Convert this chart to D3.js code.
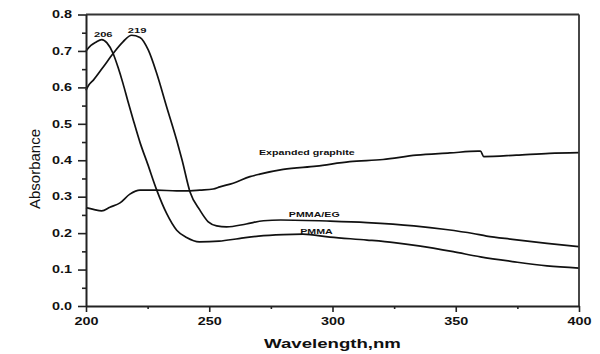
<!DOCTYPE html>
<html>
<head>
<meta charset="utf-8">
<script src="https://cdn.jsdelivr.net/npm/d3@7"></script>
<style>
  body { margin: 0; background: #fff; }
  svg { display: block; font-family: "Liberation Sans", Arial, sans-serif; }
</style>
</head>
<body>
<svg width="600" height="354"></svg>
<script>
// UV-vis spectra, values
const wlPMMA = [200, 202, 204, 206.4, 208.5, 211, 213, 215, 217, 219.2, 222, 225, 228.7, 232.7, 236.8, 240.8, 246, 254, 262, 270, 280, 288, 299, 314, 325, 335, 349, 360, 373, 387, 400];
const absPMMA = [0.700, 0.715, 0.724, 0.731, 0.722, 0.693, 0.655, 0.611, 0.562, 0.510, 0.447, 0.390, 0.318, 0.254, 0.208, 0.188, 0.176, 0.178, 0.185, 0.192, 0.196, 0.197, 0.189, 0.181, 0.174, 0.165, 0.149, 0.135, 0.122, 0.110, 0.104];

const wlPMMAEG = [200, 201, 203, 207, 211, 215, 218.5, 221.9, 225.3, 228.7, 232.7, 236.8, 239, 242.2, 246.2, 249.6, 253, 257, 265, 272, 279, 299, 314, 333, 346, 357, 362.5, 373, 387, 400];
const absPMMAEG = [0.592, 0.605, 0.620, 0.656, 0.693, 0.725, 0.743, 0.737, 0.702, 0.638, 0.547, 0.455, 0.400, 0.313, 0.263, 0.231, 0.220, 0.217, 0.225, 0.234, 0.236, 0.233, 0.229, 0.220, 0.210, 0.199, 0.192, 0.183, 0.172, 0.163];

const wlEG = [200, 203, 206.4, 209.7, 213.8, 217.8, 221.9, 228.7, 236.8, 242.2, 246.2, 251.6, 254.3, 259.7, 266.5, 270.5, 280, 293.5, 307, 320.5, 334, 347.6, 359, 360, 361.4, 374.6, 388, 400];
const absEG = [0.270, 0.265, 0.261, 0.271, 0.283, 0.307, 0.318, 0.318, 0.316, 0.316, 0.318, 0.321, 0.327, 0.337, 0.355, 0.362, 0.375, 0.384, 0.396, 0.402, 0.414, 0.420, 0.425, 0.425, 0.410, 0.414, 0.419, 0.421];

const xTicks = [200, 250, 300, 350, 400];
const xMinor = [225, 275, 325, 375];
const yTicks = [0, 0.1, 0.2, 0.3, 0.4, 0.5, 0.6, 0.7, 0.8];
const yMinor = [0.05, 0.15, 0.25, 0.35, 0.45, 0.55, 0.65, 0.75];

// curve labels: [text, wavelength, absorbance, size]
const labels = [
  ["206", 207, 0.739, 8],
  ["219", 220.7, 0.749, 8],
  ["Expanded graphite", 289.6, 0.4155, 7.6],
  ["PMMA/EG", 292.6, 0.2455, 7.6],
  ["PMMA", 293.5, 0.1975, 7.6]
];

const margin = {top: 14.5, right: 21, bottom: 48, left: 86};
const W = 600, H = 354;
const svg = d3.select("svg");

const x = d3.scaleLinear().domain([200, 400]).range([margin.left, W - margin.right]);
const y = d3.scaleLinear().domain([0, 0.8]).range([H - margin.bottom, margin.top]);

const series = [
  d3.zip(wlPMMA, absPMMA),
  d3.zip(wlPMMAEG, absPMMAEG),
  d3.zip(wlEG, absEG)
];

const line = d3.line()
  .x(d => x(d[0]))
  .y(d => y(d[1]))
  .curve(d3.curveMonotoneX);

svg.selectAll(".curve")
  .data(series)
  .enter()
  .append("path")
  .attr("class", "curve")
  .attr("d", line)
  .attr("fill", "none")
  .attr("stroke", "#111")
  .attr("stroke-width", 1.7);

// frame top and right
svg.append("line")
  .attr("x1", x(200)).attr("x2", x(400))
  .attr("y1", y(0.8)).attr("y2", y(0.8))
  .attr("stroke", "#333").attr("stroke-width", 1.8);
svg.append("line")
  .attr("x1", x(400)).attr("x2", x(400))
  .attr("y1", y(0.8)).attr("y2", y(0))
  .attr("stroke", "#333").attr("stroke-width", 1.8);

// minor ticks
svg.append("g")
  .attr("transform", `translate(${margin.left},0)`)
  .call(d3.axisLeft(y).tickValues(yMinor).tickSize(4).tickFormat(""))
  .call(g => g.select(".domain").remove());
svg.append("g")
  .attr("transform", `translate(0,${y(0)})`)
  .call(d3.axisBottom(x).tickValues(xMinor).tickSize(3).tickFormat(""))
  .call(g => g.select(".domain").remove());

// major axes
const yAxis = svg.append("g")
  .attr("transform", `translate(${margin.left},0)`)
  .call(d3.axisLeft(y).tickValues(yTicks).tickSize(8).tickSizeOuter(0).tickFormat(d3.format(".1f")));
yAxis.selectAll("text")
  .attr("x", 0)
  .attr("transform", "translate(-14,0) scale(1.4,1)");

const xAxis = svg.append("g")
  .attr("transform", `translate(0,${y(0)})`)
  .call(d3.axisBottom(x).tickValues(xTicks).tickSize(6).tickSizeOuter(0));
xAxis.selectAll("text")
  .attr("y", 12)
  .attr("transform", "scale(1.4,1)");

svg.selectAll(".tick line").attr("stroke", "#222").attr("stroke-width", 1.6);
svg.selectAll(".domain").attr("stroke", "#222").attr("stroke-width", 2);
svg.selectAll(".tick text")
  .attr("font-family", "Liberation Sans, Arial, sans-serif")
  .attr("font-size", 10.3)
  .attr("font-weight", "bold")
  .attr("fill", "#111");

// axis titles
svg.append("text")
  .attr("transform", `translate(${x(300)},348) scale(1.38,1)`)
  .attr("text-anchor", "middle")
  .attr("font-size", 13.5)
  .attr("font-weight", "bold")
  .attr("fill", "#111")
  .text("Wavelength,nm");

svg.append("text")
  .attr("transform", "translate(39.5,169) rotate(-90)")
  .attr("text-anchor", "middle")
  .attr("font-size", 15)
  .attr("fill", "#111")
  .text("Absorbance");

// curve labels
svg.selectAll(".lbl")
  .data(labels)
  .enter()
  .append("text")
  .attr("class", "lbl")
  .attr("transform", d => `translate(${x(d[1])},${y(d[2])}) scale(1.4,1)`)
  .attr("text-anchor", "middle")
  .attr("font-size", d => d[3])
  .attr("font-weight", "bold")
  .attr("fill", "#111")
  .text(d => d[0]);
</script>
</body>
</html>
